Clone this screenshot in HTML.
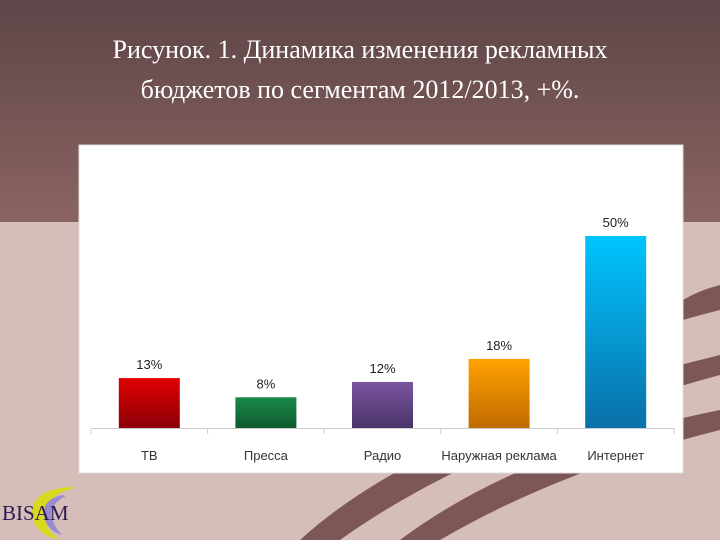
<!DOCTYPE html>
<html><head><meta charset="utf-8"><style>
body{margin:0;width:720px;height:540px;overflow:hidden;font-family:"Liberation Serif",serif}
</style></head><body>
<svg width="720" height="540">
<defs>
<linearGradient id="top" x1="0" y1="0" x2="0" y2="1"><stop offset="0" stop-color="#5e4547"/><stop offset="1" stop-color="#8a6462"/></linearGradient>
<linearGradient id="g0" x1="0" y1="0" x2="0" y2="1"><stop offset="0" stop-color="#e00000"/><stop offset="1" stop-color="#8a0008"/></linearGradient>
<linearGradient id="g1" x1="0" y1="0" x2="0" y2="1"><stop offset="0" stop-color="#1a8a4a"/><stop offset="1" stop-color="#0e5a2e"/></linearGradient>
<linearGradient id="g2" x1="0" y1="0" x2="0" y2="1"><stop offset="0" stop-color="#7a55a0"/><stop offset="1" stop-color="#4a3468"/></linearGradient>
<linearGradient id="g3" x1="0" y1="0" x2="0" y2="1"><stop offset="0" stop-color="#ffa200"/><stop offset="1" stop-color="#c06a00"/></linearGradient>
<linearGradient id="g4" x1="0" y1="0" x2="0" y2="1"><stop offset="0" stop-color="#00c4ff"/><stop offset="1" stop-color="#0a70a8"/></linearGradient>
</defs>
<rect width="720" height="540" fill="#d5bdb9"/>
<rect width="720" height="222" fill="url(#top)"/>
<path d="M300 540 Q420 430 700 360 L720 355 L720 375 Q480 440 340 540Z" fill="#7d5658"/>
<path d="M400 540 Q520 450 720 410 L720 430 Q560 470 440 540Z" fill="#7d5658"/>
<path d="M683 300 Q700 290 720 285 L720 310 Q700 315 683 320Z" fill="#7d5658"/>
<text x="360" y="58" font-size="26" fill="#fff" text-anchor="middle">Рисунок. 1. Динамика изменения рекламных</text>
<text x="360" y="98" font-size="26" fill="#fff" text-anchor="middle">бюджетов по сегментам 2012/2013, +%.</text>
<rect x="79" y="145" width="604" height="328" fill="#fff" stroke="#ddd"/>
<g id="chart"></g>
<g>
<path d="M70 487 Q30 490 32 515 Q35 535 60 540 Q45 530 45 515 Q45 495 75 488Z" fill="#d8d820"/>
<path d="M62 495 Q42 500 44 515 Q46 530 62 535 Q52 525 52 514 Q52 502 66 496Z" fill="#9a8ad0"/>
<text x="2" y="520" font-size="21" fill="#2a1a50">BISAM</text>
</g>
</svg>
<script>
const categories=["ТВ","Пресса","Радио","Наружная реклама","Интернет"];
const values=[13,8,12,18,50];
const valueLabels=["13%","8%","12%","18%","50%"];
const svg=document.getElementById('chart');const NS='http://www.w3.org/2000/svg';
const x0=91,x1=674,base=428,scale=192/50;const bw=(x1-x0)/categories.length;
const y=v=>base-v*scale;
function mk(t,a){const e=document.createElementNS(NS,t);for(const k in a)e.setAttribute(k,a[k]);svg.appendChild(e);return e;}
const ax=mk('line',{x1:x0,x2:x1,y1:base+0.5,y2:base+0.5,stroke:'#ccc'});


for(let i=0;i<=categories.length;i++){const t=mk('line',{x1:x0+i*bw,x2:x0+i*bw,y1:base,y2:base+6,stroke:'#ccc'});

}
categories.forEach((c,i)=>{const cx=x0+bw*(i+0.5);
const r=mk('rect',{x:cx-30.5,y:y(values[i]),width:61,height:base-y(values[i]),fill:'url(#g'+i+')'});


const l=mk('text',{x:cx,y:y(values[i])-9,'font-size':13,'text-anchor':'middle',fill:'#222','font-family':'Liberation Sans Narrow, Liberation Sans, sans-serif'});l.textContent=valueLabels[i];


const k=mk('text',{x:cx,y:460,'font-size':13,'text-anchor':'middle',fill:'#333','font-family':'Liberation Sans Narrow, Liberation Sans, sans-serif'});k.textContent=c;

});
</script>
</body></html>
